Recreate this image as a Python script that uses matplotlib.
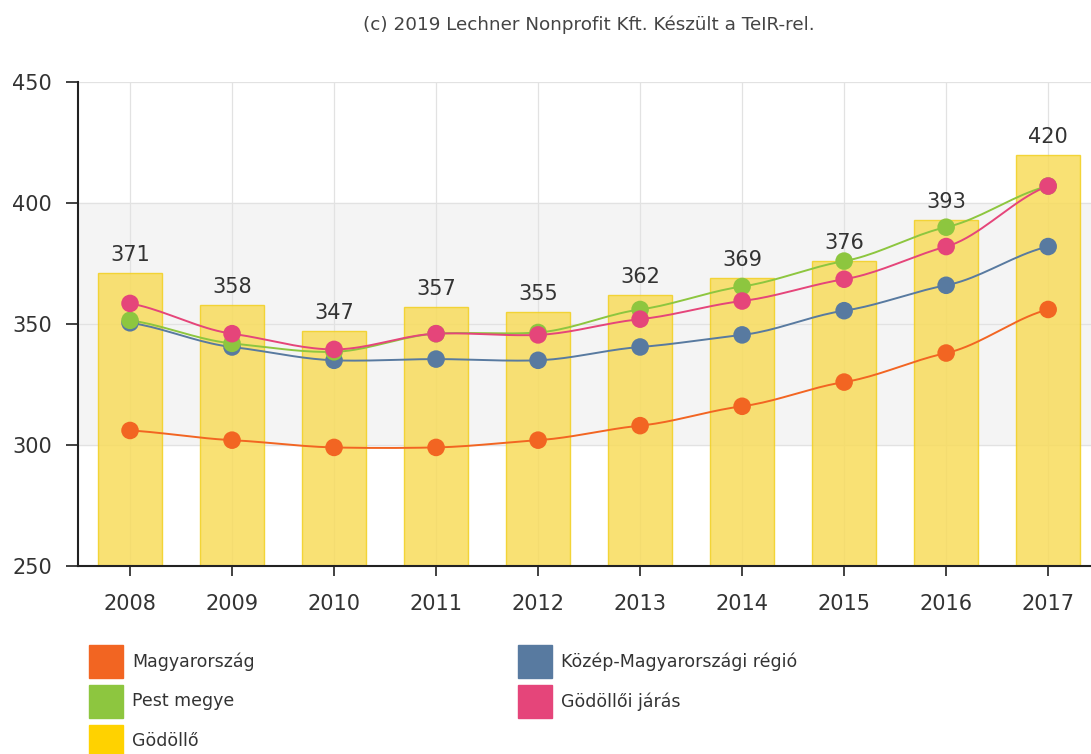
import numpy as np
import matplotlib
matplotlib.use("Agg")
import matplotlib.pyplot as plt
from matplotlib.patches import Rectangle

years = ["2008", "2009", "2010", "2011", "2012", "2013", "2014", "2015", "2016", "2017"]
godollo = [371, 358, 347, 357, 355, 362, 369, 376, 393, 420]
magyarorszag = [306, 302, 299, 299, 302, 308, 316, 326, 338, 356]
kozep = [350.5, 340.5, 335, 335.5, 335, 340.5, 345.5, 355.5, 366, 382]
pest = [351.5, 342, 338.5, 346, 346.5, 356, 365.5, 376, 390, 407]
jaras = [358.5, 346, 339.5, 346, 345.5, 352, 359.5, 368.5, 382, 407]

series = [
    ("Magyarország", magyarorszag, "#f26522"),
    ("Közép-Magyarországi régió", kozep, "#587aa0"),
    ("Pest megye", pest, "#8dc63f"),
    ("Gödöllői járás", jaras, "#e5457a"),
]
bar_name = "Gödöllő"
bar_color = "#ffd200"

W, H = 1091, 754
fig = plt.figure(figsize=(W / 100, H / 100), dpi=100)
ax = fig.add_axes([78 / W, 1 - 566 / H, (1091 - 78) / W, (566 - 82) / H])

x = np.arange(len(years))

def smooth(xs, ys, n=20):
    xs = np.asarray(xs, float); ys = np.asarray(ys, float)
    m = np.zeros_like(ys)
    m[1:-1] = (ys[2:] - ys[:-2]) / 2.0
    m[0] = ys[1] - ys[0]; m[-1] = ys[-1] - ys[-2]
    m *= 0.6
    ox, oy = [], []
    for i in range(len(xs) - 1):
        t = np.linspace(0, 1, n, endpoint=False)
        h00 = 2*t**3 - 3*t**2 + 1; h10 = t**3 - 2*t**2 + t
        h01 = -2*t**3 + 3*t**2; h11 = t**3 - t**2
        ox.extend(xs[i] + t)
        oy.extend(h00*ys[i] + h10*m[i] + h01*ys[i+1] + h11*m[i+1])
    ox.append(xs[-1]); oy.append(ys[-1])
    return ox, oy

ax.axhspan(300, 400, color="#f4f4f4", zorder=0)
for yv in [300, 350, 400, 450]:
    ax.axhline(yv, color="#e2e2e2", lw=0.9, zorder=0.5)
for xi in x:
    ax.axvline(xi, color="#e2e2e2", lw=0.9, zorder=0.5)

ax.bar(x, godollo, width=0.63, bottom=0, color="#f8dc5c", alpha=0.85,
       edgecolor="#f2d020", linewidth=1, zorder=1)
for xi, v in zip(x, godollo):
    ax.text(xi, v + 4.9, str(v), ha="center", va="baseline", fontsize=15, color="#333333", zorder=5)

for name, vals, col in series:
    sx, sy = smooth(x, vals)
    ax.plot(sx, sy, color=col, lw=1.4, zorder=3)
    ax.scatter(x, vals, s=160, color=col, zorder=4, edgecolors="none")

ax.set_ylim(250, 450)
ax.set_xlim(-0.51, 9.42)
ax.set_yticks([250, 300, 350, 400, 450])
ax.set_xticks(x)
ax.set_xticklabels(years)
ax.tick_params(axis="both", labelsize=15, colors="#333333", width=1.3)
ax.tick_params(axis="y", length=8.6, pad=10)
ax.tick_params(axis="x", length=7.2, pad=13)
for lab in ax.get_xticklabels() + ax.get_yticklabels():
    lab.set_color("#333333")
for s in ["top", "right"]:
    ax.spines[s].set_visible(False)
for s in ["left", "bottom"]:
    ax.spines[s].set_linewidth(1.5)
    ax.spines[s].set_color("#222222")

fig.text(589 / W, 1 - 25 / H, "(c) 2019 Lechner Nonprofit Kft. Készült a TeIR-rel.",
         ha="center", va="center", fontsize=13.2, color="#444444")

legend_items = [
    (89, 645, "Magyarország", "#f26522"),
    (89, 685, "Pest megye", "#8dc63f"),
    (89, 725, "Gödöllő", bar_color),
    (518, 645, "Közép-Magyarországi régió", "#587aa0"),
    (518, 685, "Gödöllői járás", "#e5457a"),
]
for px, py, lab, col in legend_items:
    fig.patches.append(Rectangle((px / W, 1 - (py + 33) / H), 34 / W, 33 / H,
                                 transform=fig.transFigure, color=col))
    fig.text((px + 43) / W, 1 - (py + 16.5) / H, lab, ha="left", va="center",
             fontsize=12.5, color="#333333")

fig.savefig("out.png", dpi=100)
